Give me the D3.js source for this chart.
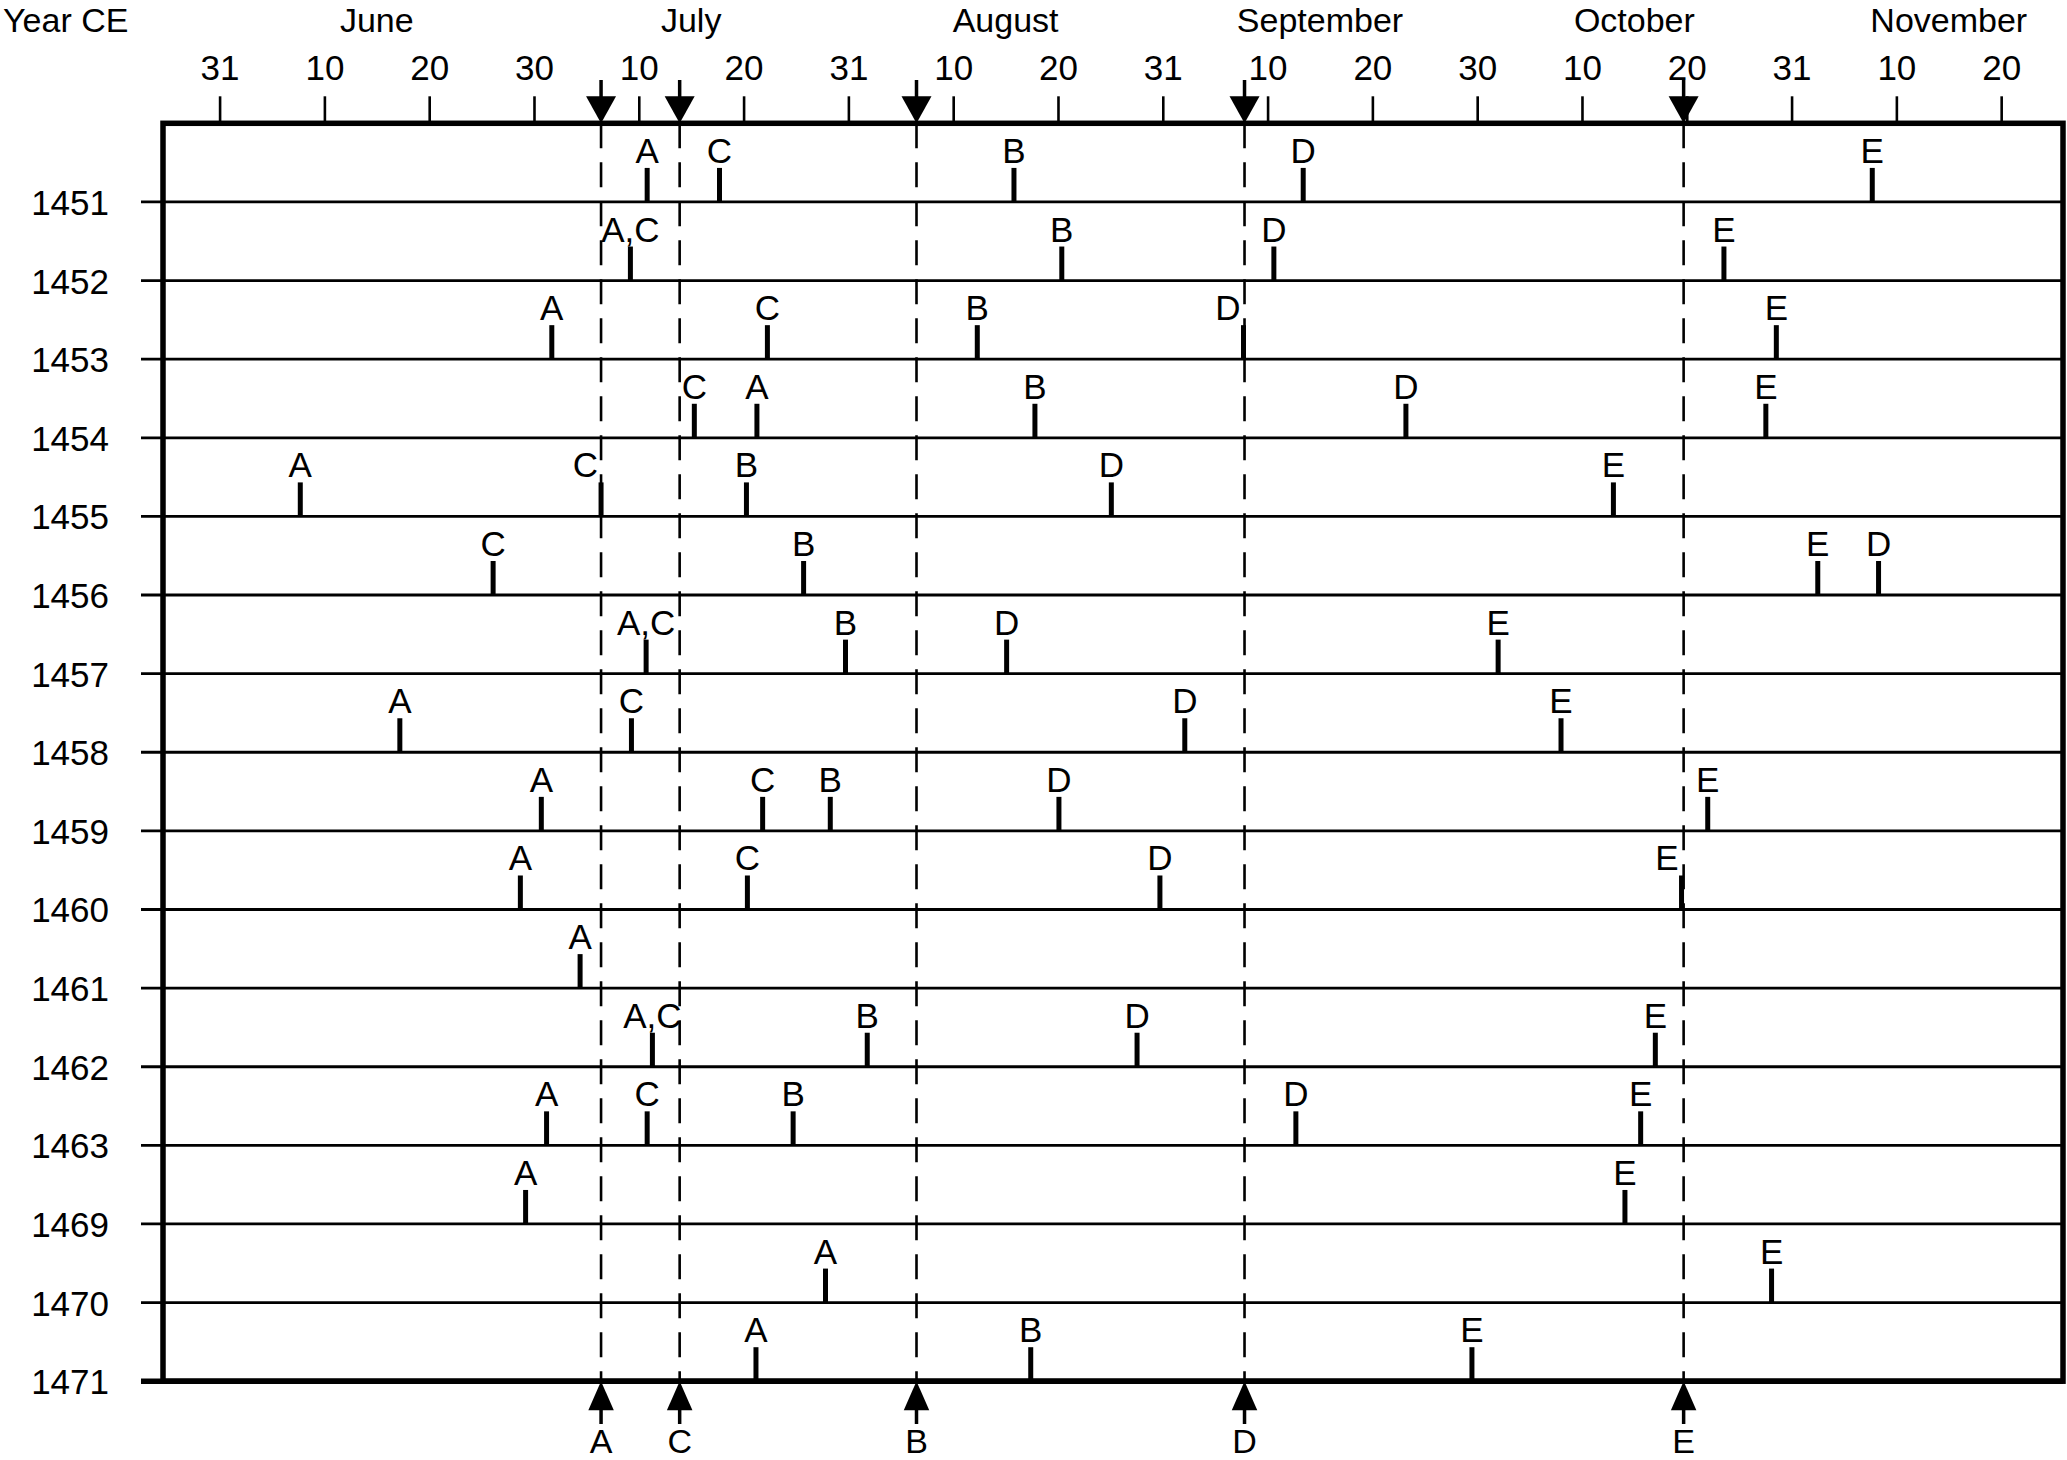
<!DOCTYPE html>
<html>
<head>
<meta charset="utf-8">
<script src="https://cdn.jsdelivr.net/npm/d3@7"></script>
<style>
  html, body { margin: 0; padding: 0; background: #fff; }
  svg { display: block; }
  text { font-family: "Liberation Sans", Arial, Helvetica, sans-serif; fill: #000; }
</style>
</head>
<body>
<svg id="chart" width="2067" height="1460"></svg>
<script>
// ---------------- DATA ----------------
// Top-axis ticks: day-of-year of each tick and its label
const tickDays   = [151, 161, 171, 181, 191, 201, 212, 222, 232, 243, 253, 263, 273, 283, 293, 304, 314, 324];
const tickLabels = ["31","10","20","30","10","20","31","10","20","31","10","20","30","10","20","31","10","20"];

// Month labels, centred on the 15th of each month (day-of-year)
const monthNames   = ["June", "July", "August", "September", "October", "November"];
const monthMidDays = [166, 196, 227, 258, 288, 319];

// Years (rows)
const years = [1451, 1452, 1453, 1454, 1455, 1456, 1457, 1458, 1459, 1460, 1461, 1462, 1463, 1469, 1470, 1471];

// Event dates per year (day-of-year, null = not recorded)
const eventA = [191.8, 190.2, 182.7, 202.4, 158.7, null, 191.7, 168.2, 181.7, 179.7, 185.4, 192.3, 182.2, 180.2, 209.6, 202.3];
const eventC = [198.7, 190.2, 203.5, 196.3, 187.4, 177.1, 191.7, 190.3, 203.0, 201.4, null, 192.3, 191.8, null, null, null];
const eventB = [227.8, 232.4, 224.3, 229.8, 201.3, 207.3, 211.7, null, 210.1, null, null, 213.8, 206.2, null, null, 229.4];
const eventD = [256.4, 253.6, 250.7, 266.2, 237.6, 312.3, 227.1, 245.1, 232.1, 242.7, null, 240.3, 255.7, null, null, null];
const eventE = [311.7, 296.9, 302.4, 301.3, 286.0, 306.5, 275.0, 281.0, 295.2, 292.5, null, 290.0, 288.6, 287.1, 301.9, 272.5];

// Reference (mean) dates shown as dashed lines with arrows
const refNames = ["A", "C", "B", "D", "E"];
const refDays  = [187.4, 194.9, 218.5, 250.8, 292.7];

// ---------------- LAYOUT ----------------
const svg = d3.select("#chart");
const L = 163, R = 2063, T = 123.3, B = 1381.2;
const padL = 0.54, padR = 0.59;
const step = (R - L) / (tickDays.length - 1 + padL + padR);

// piecewise-linear scale: each tick interval (dekad) gets equal width
const x = d3.scaleLinear()
  .domain(tickDays)
  .range(tickDays.map((d, i) => L + (padL + i) * step));

const y = d3.scaleLinear().domain([0, years.length]).range([T, B]);

const FS = 35;

// ---------------- TOP AXIS ----------------
const axis = d3.axisTop(x)
  .tickValues(tickDays)
  .tickFormat((d, i) => tickLabels[i])
  .tickSize(27)
  .tickPadding(16);

const gAxis = svg.append("g").attr("transform", `translate(0,${T})`).call(axis);
gAxis.select(".domain").remove();
gAxis.selectAll(".tick line").attr("stroke", "#000").attr("stroke-width", 2.6);
gAxis.selectAll(".tick text")
  .style("font-family", '"Liberation Sans", Arial, sans-serif')
  .style("font-size", FS + "px")
  .attr("fill", "#000");

// Month labels
svg.append("g").selectAll("text")
  .data(monthNames)
  .join("text")
  .attr("x", (d, i) => x(monthMidDays[i]))
  .attr("y", 32)
  .attr("text-anchor", "middle")
  .style("font-size", "34px")
  .text(d => d);

svg.append("text")
  .attr("x", 3).attr("y", 32)
  .style("font-size", "34px")
  .text("Year CE");

// ---------------- ROWS ----------------
const rows = years.map((yr, i) => ({ year: yr, i: i + 1 }));

svg.append("g").selectAll("line")
  .data(rows)
  .join("line")
  .attr("x1", 141).attr("x2", R)
  .attr("y1", d => y(d.i)).attr("y2", d => y(d.i))
  .attr("stroke", "#000")
  .attr("stroke-width", d => d.i === years.length ? 5.5 : 2.8);

svg.append("g").selectAll("text")
  .data(rows)
  .join("text")
  .attr("x", 109)
  .attr("y", d => y(d.i) + 13)
  .attr("text-anchor", "end")
  .style("font-size", FS + "px")
  .text(d => d.year);

// ---------------- REFERENCE DASHED LINES ----------------
svg.append("g").selectAll("line")
  .data(refDays)
  .join("line")
  .attr("x1", d => x(d)).attr("x2", d => x(d))
  .attr("y1", T).attr("y2", B)
  .attr("stroke", "#000")
  .attr("stroke-width", 2.6)
  .attr("stroke-dasharray", "25,14");

// ---------------- FRAME ----------------
svg.append("rect")
  .attr("x", L).attr("y", T)
  .attr("width", R - L).attr("height", B - T)
  .attr("fill", "none")
  .attr("stroke", "#000")
  .attr("stroke-width", 5.5);

// ---------------- ARROWS ----------------
const aw = 15, ah = 27;
const gTopArr = svg.append("g");
gTopArr.selectAll("line")
  .data(refDays).join("line")
  .attr("x1", d => x(d)).attr("x2", d => x(d))
  .attr("y1", 80).attr("y2", T - ah + 2)
  .attr("stroke", "#000").attr("stroke-width", 3.5);
gTopArr.selectAll("path")
  .data(refDays).join("path")
  .attr("d", d => `M${x(d) - aw},${T - ah} L${x(d) + aw},${T - ah} L${x(d)},${T} Z`)
  .attr("fill", "#000");

const gBotArr = svg.append("g");
gBotArr.selectAll("line")
  .data(refDays).join("line")
  .attr("x1", d => x(d)).attr("x2", d => x(d))
  .attr("y1", B + ah - 2).attr("y2", 1424)
  .attr("stroke", "#000").attr("stroke-width", 3.5);
gBotArr.selectAll("path")
  .data(refDays).join("path")
  .attr("d", d => `M${x(d) - aw * 0.85},${B + ah + 2} L${x(d) + aw * 0.85},${B + ah + 2} L${x(d)},${B} Z`)
  .attr("fill", "#000");
gBotArr.selectAll("text")
  .data(refDays).join("text")
  .attr("x", d => x(d))
  .attr("y", 1453)
  .attr("text-anchor", "middle")
  .style("font-size", "34px")
  .text((d, i) => refNames[i]);

// ---------------- EVENT MARKS ----------------
const series = [["A", eventA], ["C", eventC], ["B", eventB], ["D", eventD], ["E", eventE]];
const marks = [];
years.forEach((yr, ri) => {
  const row = [];
  series.forEach(([name, vals]) => {
    const v = vals[ri];
    if (v == null) return;
    const same = row.find(m => m.day === v);
    if (same) same.label += "," + name;
    else row.push({ day: v, label: name, i: ri + 1 });
  });
  marks.push(...row);
});

const nearRef = d => refDays.some(r => Math.abs(r - d) < 0.5);

const gMarks = svg.append("g");
gMarks.selectAll("line")
  .data(marks).join("line")
  .attr("x1", d => x(d.day)).attr("x2", d => x(d.day))
  .attr("y1", d => y(d.i)).attr("y2", d => y(d.i) - 34)
  .attr("stroke", "#000").attr("stroke-width", 5);

gMarks.selectAll("text")
  .data(marks).join("text")
  .attr("x", d => nearRef(d.day) ? x(d.day) - 3 : x(d.day))
  .attr("y", d => y(d.i) - 39)
  .attr("text-anchor", d => nearRef(d.day) ? "end" : "middle")
  .style("font-size", FS + "px")
  .text(d => d.label);
</script>
</body>
</html>
